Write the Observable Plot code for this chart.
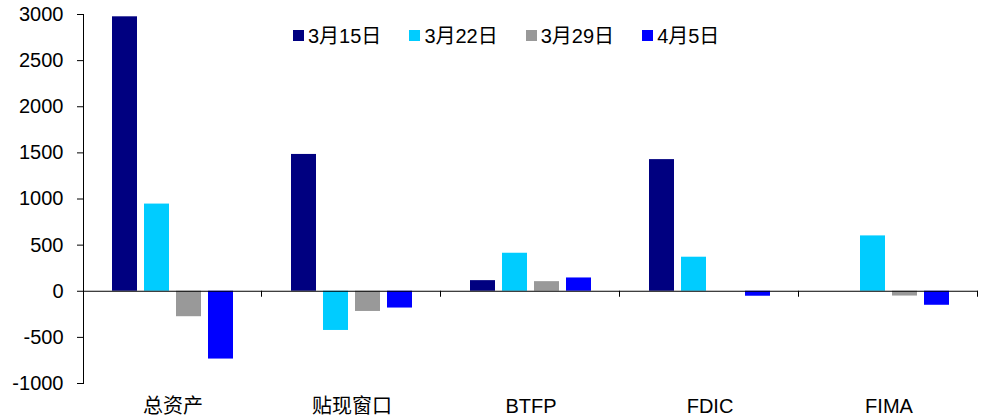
<!DOCTYPE html>
<html>
<head>
<meta charset="utf-8">
<script src="https://cdn.jsdelivr.net/npm/d3@7"></script>
<script src="https://cdn.jsdelivr.net/npm/@observablehq/plot@0.6"></script>
<style>
  html, body { margin: 0; padding: 0; background: #fff; }
  #chart { position: relative; width: 987px; height: 420px; }
  #chart .lg-swatches {
    position: absolute; left: 293px; top: 19px; margin: 0;
    font: 20px "Liberation Sans", "Noto Sans CJK SC", sans-serif;
    line-height: 22px; color: #000;
  }
  #chart .lg-swatch { margin-right: 28px; }
  #chart .lg-swatch > svg { margin-right: 4px; }
</style>
</head>
<body>
<div id="chart"></div>
<script>
// Weekly change by balance-sheet item
const categories = ["总资产", "贴现窗口", "BTFP", "FDIC", "FIMA"];
const dates = ["3月15日", "3月22日", "3月29日", "4月5日"];
const mar15 = [2975, 1483, 115, 1427, null];
const mar22 = [945, -425, 412, 369, 600];
const mar29 = [-276, -219, 104, null, -52];
const apr5 = [-735, -182, 144, -54, -152];
const colors = ["#000080", "#00CCFF", "#999999", "#0000FF"];
const yTicks = [-1000, -500, 0, 500, 1000, 1500, 2000, 2500, 3000];

const series = [mar15, mar22, mar29, apr5];
const rows = [];
series.forEach((vals, s) => vals.forEach((v, c) => {
  if (v != null) rows.push({category: categories[c], date: dates[s], value: v});
}));

const font = '"Liberation Sans", "Noto Sans CJK SC", sans-serif';

// short tick marks hanging below the zero line at the right edge of each group
function groupTicks(index, scales) {
  const {fx, y} = scales;
  const g = d3.create("svg:g").attr("stroke", "#000").attr("stroke-width", 1);
  const y0 = y(0);
  for (const c of categories) {
    const xr = Math.round(fx(c) + fx.bandwidth()) - 0.5;
    g.append("line").attr("x1", xr).attr("x2", xr).attr("y1", y0).attr("y2", y0 + 6);
  }
  return g.node();
}

const plot = Plot.plot({
  width: 987,
  height: 420,
  marginLeft: 83,
  marginRight: 9,
  marginTop: 14,
  marginBottom: 37,
  style: {fontFamily: font, fontSize: "20px", color: "#000", background: "#fff", overflow: "visible"},
  fx: {domain: categories, padding: 0, label: null},
  x: {domain: dates, paddingInner: 0.215, paddingOuter: 0.86, axis: null},
  y: {domain: [-1000, 3000], label: null},
  color: {domain: dates, range: colors},
  marks: [
    Plot.barY(rows, {fx: "category", x: "date", y: "value", fill: "date"}),
    Plot.ruleY([0], {stroke: "#000", strokeWidth: 1}),
    Plot.frame({facet: "super", render: groupTicks}),
    Plot.frame({anchor: "left", facet: "super", stroke: "#000"}),
    Plot.axisY({ticks: yTicks, tickSize: 6, tickPadding: 14, label: null, tickFormat: d => String(d)}),
    Plot.axisFx({anchor: "bottom", tickSize: 0, tickPadding: 15, label: null})
  ]
});

const legend = plot.legend("color", {className: "lg", swatchSize: 11});
const chart = document.getElementById("chart");
chart.appendChild(plot);
chart.appendChild(legend);
</script>
</body>
</html>
